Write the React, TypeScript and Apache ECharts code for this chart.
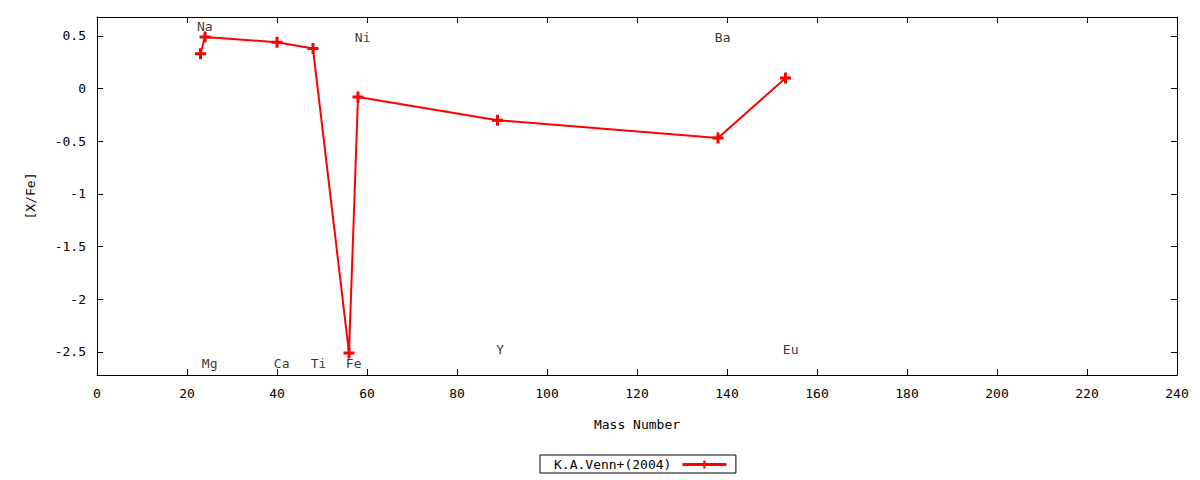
import { useEffect, useRef } from 'react';
import * as echarts from 'echarts';

// [mass number, [X/Fe]] for the Venn+ (2004) abundances
const masses = [23, 24, 40, 48, 56, 58, 89, 138, 153];
const abundances = [0.33, 0.49, 0.44, 0.38, -2.51, -0.08, -0.3, -0.47, 0.1];

// element labels, left-justified at [x, y]
const elementNames = ['Na', 'Mg', 'Ca', 'Ti', 'Fe', 'Ni', 'Y', 'Ba', 'Eu'];
const labelX = [22.2, 23.3, 39.3, 47.5, 55.3, 57.3, 88.7, 137.3, 152.4];
const labelY = [0.59, -2.61, -2.61, -2.61, -2.61, 0.49, -2.48, 0.49, -2.48];

const yTicks = [-2.5, -2, -1.5, -1, -0.5, 0, 0.5];

const FONT = 'DejaVu Sans Mono';
const PLUS = 'path://M4,0H7V4H11V7H7V11H4V7H0V4H4Z';

const App = () => {
  const chartRef = useRef<HTMLDivElement>(null);

  useEffect(() => {
    if (!chartRef.current) return;
    const chart = echarts.init(chartRef.current, undefined, { renderer: 'svg' });

    const axisLine = { show: true, onZero: false, lineStyle: { color: '#000', width: 1 } };
    const axisTick = { show: true, inside: true, length: 6, lineStyle: { color: '#000' } };
    const labelStyle = { color: '#000', fontFamily: FONT, fontSize: 13 };

    chart.setOption({
      animation: false,
      backgroundColor: '#fff',
      grid: { left: 97, right: 23, top: 17, bottom: 105 },
      legend: {
        left: 540,
        top: 455,
        align: 'right',
        orient: 'horizontal',
        padding: [3, 8, 2, 14],
        borderColor: '#000',
        borderWidth: 1,
        borderRadius: 0,
        itemWidth: 44,
        itemHeight: 10,
        lineStyle: { width: 3 },
        textStyle: { ...labelStyle, padding: [0, 6, 0, 0] },
        data: ['K.A.Venn+(2004)'],
      },
      xAxis: [
        {
          type: 'value',
          min: 0,
          max: 240,
          interval: 20,
          name: 'Mass Number',
          nameLocation: 'middle',
          nameGap: 43,
          nameTextStyle: labelStyle,
          axisLine,
          axisTick,
          axisLabel: { ...labelStyle, margin: 12 },
          splitLine: { show: false },
        },
        {
          type: 'value',
          position: 'top',
          min: 0,
          max: 240,
          interval: 20,
          axisLine,
          axisTick,
          axisLabel: { show: false },
          splitLine: { show: false },
        },
      ],
      yAxis: [
        {
          type: 'value',
          min: -2.72,
          max: 0.68,
          name: '[X/Fe]',
          nameLocation: 'middle',
          nameGap: 60,
          nameRotate: 90,
          nameTextStyle: labelStyle,
          axisLine,
          axisTick: { ...axisTick, customValues: yTicks },
          axisLabel: { ...labelStyle, margin: 11, customValues: yTicks },
          splitLine: { show: false },
        },
        {
          type: 'value',
          position: 'right',
          min: -2.72,
          max: 0.68,
          axisLine,
          axisTick: { ...axisTick, customValues: yTicks },
          axisLabel: { show: false },
          splitLine: { show: false },
        },
      ],
      series: [
        {
          name: 'K.A.Venn+(2004)',
          type: 'line',
          data: masses.map((m, i) => [m, abundances[i]]),
          symbol: PLUS,
          symbolSize: 11,
          showAllSymbol: true,
          lineStyle: { color: '#ff0000', width: 2 },
          itemStyle: { color: '#ff0000' },
          z: 3,
        },
        {
          name: 'labels',
          type: 'scatter',
          silent: true,
          symbolSize: 0,
          itemStyle: { color: '#000' },
          data: elementNames.map((n, i) => ({ name: n, value: [labelX[i], labelY[i]] })),
          label: {
            show: true,
            position: 'right',
            distance: 0,
            formatter: '{b}',
            textBorderWidth: 0,
            ...labelStyle,
          },
          z: 4,
        },
      ],
    });

    return () => {
      chart.dispose();
    };
  }, []);

  return (
    <div
      ref={chartRef}
      style={{ position: 'fixed', left: 0, top: 0, width: 1200, height: 480 }}
    />
  );
};

export default App;
